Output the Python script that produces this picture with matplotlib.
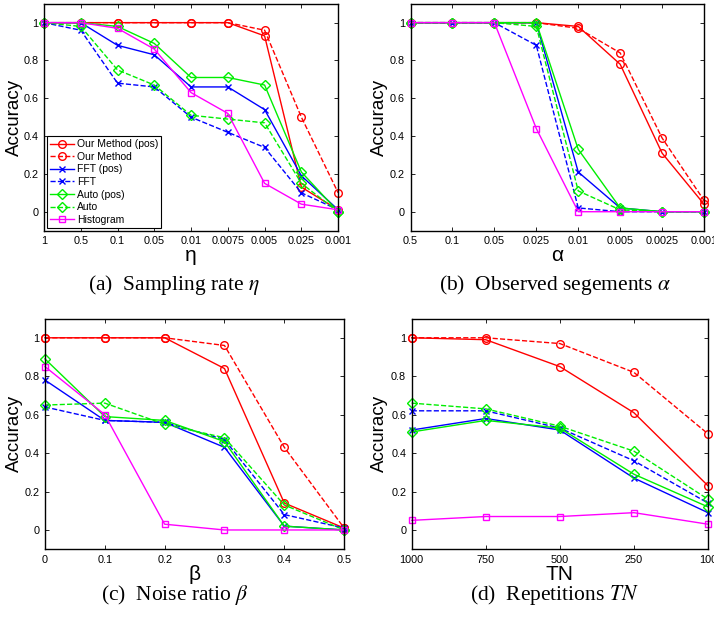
import matplotlib
matplotlib.use('Agg')
import matplotlib.pyplot as plt

plt.rcParams['font.family'] = ['Liberation Sans', 'DejaVu Sans']
plt.rcParams['mathtext.fontset'] = 'stix'

series_names = ['Our Method (pos)', 'Our Method', 'FFT (pos)', 'FFT',
                'Auto (pos)', 'Auto', 'Histogram']

# (a) sampling rate
eta_labels = ['1', '0.5', '0.1', '0.05', '0.01', '0.0075', '0.005', '0.025', '0.001']
eta_our_pos = [1, 1, 1, 1, 1, 1, 0.93, 0.13, 0.01]
eta_our = [1, 1, 1, 1, 1, 1, 0.96, 0.50, 0.10]
eta_fft_pos = [1, 1, 0.88, 0.83, 0.66, 0.66, 0.54, 0.19, 0.01]
eta_fft = [1, 0.96, 0.68, 0.66, 0.50, 0.42, 0.34, 0.10, 0.01]
eta_auto_pos = [1, 1, 0.98, 0.89, 0.71, 0.71, 0.67, 0.21, 0.00]
eta_auto = [1, 0.98, 0.75, 0.67, 0.51, 0.49, 0.47, 0.15, 0.00]
eta_hist = [1, 1, 0.97, 0.86, 0.63, 0.52, 0.15, 0.04, 0.01]

# (b) observed segments
alpha_labels = ['0.5', '0.1', '0.05', '0.025', '0.01', '0.005', '0.0025', '0.001']
alpha_our_pos = [1, 1, 1, 1, 0.98, 0.78, 0.31, 0.04]
alpha_our = [1, 1, 1, 1, 0.97, 0.84, 0.39, 0.06]
alpha_fft_pos = [1, 1, 1, 1, 0.21, 0.02, 0, 0]
alpha_fft = [1, 1, 1, 0.88, 0.02, 0, 0, 0]
alpha_auto_pos = [1, 1, 1, 1, 0.33, 0.02, 0, 0]
alpha_auto = [1, 1, 1, 0.98, 0.11, 0.01, 0, 0]
alpha_hist = [1, 1, 1, 0.44, 0, 0, 0, 0]

# (c) noise ratio
beta_values = [0, 0.1, 0.2, 0.3, 0.4, 0.5]
beta_labels = ['0', '0.1', '0.2', '0.3', '0.4', '0.5']
beta_our_pos = [1, 1, 1, 0.84, 0.14, 0.01]
beta_our = [1, 1, 1, 0.96, 0.43, 0.01]
beta_fft_pos = [0.78, 0.57, 0.56, 0.43, 0.02, 0.00]
beta_fft = [0.64, 0.57, 0.56, 0.47, 0.08, 0.01]
beta_auto_pos = [0.89, 0.59, 0.57, 0.46, 0.02, 0.00]
beta_auto = [0.65, 0.66, 0.55, 0.48, 0.13, 0.00]
beta_hist = [0.85, 0.60, 0.03, 0.00, 0.00, 0.00]

# (d) repetitions
tn_labels = ['1000', '750', '500', '250', '100']
tn_our_pos = [1.0, 0.99, 0.85, 0.61, 0.23]
tn_our = [1.0, 1.0, 0.97, 0.82, 0.50]
tn_fft_pos = [0.52, 0.58, 0.52, 0.27, 0.09]
tn_fft = [0.62, 0.62, 0.53, 0.36, 0.14]
tn_auto_pos = [0.51, 0.57, 0.53, 0.29, 0.12]
tn_auto = [0.66, 0.63, 0.54, 0.41, 0.16]
tn_hist = [0.05, 0.07, 0.07, 0.09, 0.03]

styles = [
    ('#ff0000', '-', 'o'),
    ('#ff0000', '--', 'o'),
    ('#0000ff', '-', 'x'),
    ('#0000ff', '--', 'x'),
    ('#00ee00', '-', 'D'),
    ('#00ee00', '--', 'D'),
    ('#ff00ff', '-', 's'),
]


def draw_panel(ax, x, ys, tick_labels, xlabel, ylabel_x):
    for (color, ls, mk), y, name in zip(styles, ys, series_names):
        ms = 5.5 if mk == 'o' else (5.2 if mk == 'D' else 4.5)
        ax.plot(x, y, color=color, linestyle=ls, marker=mk, markersize=ms,
                markerfacecolor='none', markeredgecolor=color, linewidth=1.0,
                markeredgewidth=1.0, label=name, clip_on=False)
    ax.set_xlim(x[0], x[-1])
    ax.set_ylim(-0.1, 1.1)
    ax.set_xticks(x)
    ax.set_xticklabels(tick_labels)
    ax.set_yticks([0, 0.2, 0.4, 0.6, 0.8, 1])
    ax.set_yticklabels(['0', '0.2', '0.4', '0.6', '0.8', '1'])
    ax.tick_params(direction='in', top=True, right=True, labelsize=7.8,
                   length=3, width=0.6, pad=4)
    for sp in ax.spines.values():
        sp.set_linewidth(1.0)
    ax.set_ylabel('Accuracy', fontsize=13.5)
    # label anchor is its right edge (rotated text)
    ax.yaxis.set_label_coords(ylabel_x, 0.5)
    ax.set_xlabel(xlabel, fontsize=15, labelpad=0)


fig = plt.figure(figsize=(7.14, 6.25), dpi=100)

ax_a = fig.add_axes([0.0616, 0.631, 0.412, 0.363])
ax_b = fig.add_axes([0.575, 0.631, 0.411, 0.363])
ax_c = fig.add_axes([0.063, 0.1213, 0.419, 0.369])
ax_d = fig.add_axes([0.5766, 0.1213, 0.415, 0.369])

draw_panel(ax_a, list(range(len(eta_labels))),
           [eta_our_pos, eta_our, eta_fft_pos, eta_fft, eta_auto_pos, eta_auto, eta_hist],
           eta_labels, 'η', -0.071)
draw_panel(ax_b, list(range(len(alpha_labels))),
           [alpha_our_pos, alpha_our, alpha_fft_pos, alpha_fft, alpha_auto_pos, alpha_auto, alpha_hist],
           alpha_labels, 'α', -0.077)
draw_panel(ax_c, beta_values,
           [beta_our_pos, beta_our, beta_fft_pos, beta_fft, beta_auto_pos, beta_auto, beta_hist],
           beta_labels, 'β', -0.074)
draw_panel(ax_d, list(range(len(tn_labels))),
           [tn_our_pos, tn_our, tn_fft_pos, tn_fft, tn_auto_pos, tn_auto, tn_hist],
           tn_labels, 'TN', -0.080)

leg = ax_a.legend(loc='lower left', fontsize=7.5, fancybox=False, framealpha=1,
                  edgecolor='black', borderaxespad=0.25, handlelength=2.3,
                  handletextpad=0.3, labelspacing=0.25, borderpad=0.3)
leg.get_frame().set_linewidth(0.8)

cap_kw = dict(ha='center', va='center', fontsize=15.5, family='Liberation Serif')
fig.text(0.243, 0.544, '(a)  Sampling rate $\\eta$', **cap_kw)
fig.text(0.777, 0.544, '(b)  Observed segements $\\alpha$', **cap_kw)
fig.text(0.245, 0.048, '(c)  Noise ratio $\\beta$', **cap_kw)
fig.text(0.777, 0.048, '(d)  Repetitions $TN$', **cap_kw)

fig.savefig('out.png', dpi=100)
